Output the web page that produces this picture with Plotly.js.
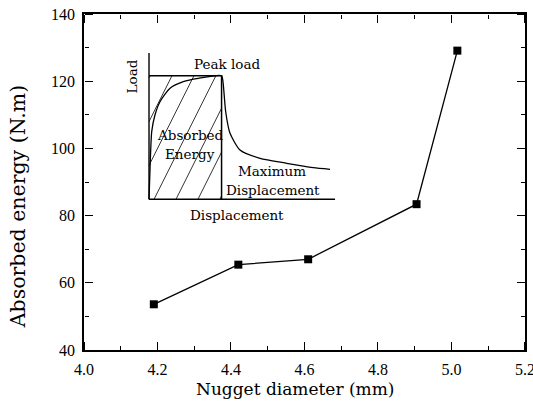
<!DOCTYPE html>
<html>
<head>
<meta charset="utf-8">
<script src="https://cdn.plot.ly/plotly-3.0.1.min.js"></script>
<style>html,body{margin:0;padding:0;background:#fff;}#chart{width:533px;height:410px;}</style>
</head>
<body>
<div id="chart"></div>
<script>
// Main data: absorbed energy vs nugget diameter
const nuggetDiameter = [4.19, 4.42, 4.61, 4.905, 5.016];
const absorbedEnergy = [53.6, 65.4, 67.0, 83.4, 129.1];

// Inset schematic (normalised load–displacement sketch)
const sketchDisp = [0, 0.006, 0.0145, 0.032, 0.059, 0.113, 0.184, 0.265, 0.39, 0.398, 0.412, 0.435, 0.489, 0.597, 0.74, 0.883, 0.973];
const sketchLoad = [0, 0.23, 0.462, 0.576, 0.667, 0.759, 0.804, 0.827, 0.845, 0.8, 0.6, 0.453, 0.337, 0.28, 0.246, 0.216, 0.205];
const peakLoad = 0.845;
const peakDisp = 0.39;

// axis ticks
const xRange = [4.0, 5.2001], yRange = [40, 140.001];
const xTick0 = 4.0, xDtick = 0.2, xMinor = 0.1;
const yTick0 = 40, yDtick = 20, yMinor = 10;

// hatch lines inside the absorbed-energy rectangle
const hatchSlope = 2.54, hatchSpacing = 0.118, hatchStart = -0.327;
const hx = [], hy = [];
for (let b = hatchStart; b < peakDisp; b += hatchSpacing) {
  const d0 = Math.max(0, b);
  const d1 = Math.min(peakDisp, b + peakLoad / hatchSlope);
  if (d1 <= d0) continue;
  hx.push(d0, d1, null);
  hy.push(hatchSlope * (d0 - b), hatchSlope * (d1 - b), null);
}

const serif = 'DejaVu Serif, Liberation Serif, serif';
const tickFont = {family: 'Liberation Serif, serif', size: 16, color: '#000'};
const insetFont = {family: serif, size: 13.5, color: '#000'};

const ghost = (xa, ya) => ({x: [xRange[0]], y: [yRange[0]], xaxis: xa, yaxis: ya, mode: 'markers',
  marker: {opacity: 0, size: 1}, showlegend: false, hoverinfo: 'skip'});

const traces = [
  {x: nuggetDiameter, y: absorbedEnergy, type: 'scatter', mode: 'lines+markers',
   line: {color: '#000', width: 1.3}, marker: {symbol: 'square', size: 8, color: '#000'},
   showlegend: false, hoverinfo: 'x+y'},
  ghost('x3', 'y3'), ghost('x4', 'y4'),
  // inset axes
  {x: [0, 0, null, 0, 1], y: [1, 0, null, 0, 0], xaxis: 'x2', yaxis: 'y2', mode: 'lines',
   line: {color: '#000', width: 1.4}, showlegend: false, hoverinfo: 'skip'},
  // rectangle
  {x: [0, peakDisp, peakDisp], y: [peakLoad, peakLoad, 0], xaxis: 'x2', yaxis: 'y2', mode: 'lines',
   line: {color: '#000', width: 1.5}, showlegend: false, hoverinfo: 'skip'},
  // hatch
  {x: hx, y: hy, xaxis: 'x2', yaxis: 'y2', mode: 'lines', connectgaps: false,
   line: {color: '#000', width: 0.8}, showlegend: false, hoverinfo: 'skip'},
  // curve
  {x: sketchDisp, y: sketchLoad, xaxis: 'x2', yaxis: 'y2', mode: 'lines',
   line: {color: '#000', width: 1.3, shape: 'spline', smoothing: 0.6}, showlegend: false, hoverinfo: 'skip'}
];

const axisCommon = {
  tickmode: 'linear', ticks: '', showline: true, linewidth: 1.8, linecolor: 'black', mirror: true,
  showgrid: false, zeroline: false, tickfont: tickFont, ticklabeloverflow: 'allow', ticklabelstandoff: 4
};
// tick-only axes placed on the opposite edge so that their outward ticks point into the plot
const tickAxis = (extra) => Object.assign({
  tickmode: 'linear', ticks: 'outside', ticklen: 8, tickwidth: 1.3, tickcolor: 'black',
  showline: false, showticklabels: false, showgrid: false, zeroline: false, anchor: 'free'
}, extra);
const xMinorTicks = {dtick: xMinor, tick0: xTick0, ticks: 'outside', ticklen: 4, tickwidth: 1, tickcolor: 'black'};
const yMinorTicks = {dtick: yMinor, tick0: yTick0, ticks: 'outside', ticklen: 4, tickwidth: 1, tickcolor: 'black'};

const layout = {
  width: 533, height: 410,
  margin: {l: 84, r: 8, t: 14, b: 60},
  paper_bgcolor: '#fff', plot_bgcolor: 'rgba(0,0,0,0)',
  showlegend: false,
  xaxis: Object.assign({}, axisCommon, {
    range: xRange, tick0: xTick0, dtick: xDtick, tickformat: '.1f', title: {text: ''}
  }),
  yaxis: Object.assign({}, axisCommon, {
    range: yRange, tick0: yTick0, dtick: yDtick, title: {text: ''}
  }),
  xaxis3: tickAxis({overlaying: 'x', side: 'top', position: 0, range: xRange, tick0: xTick0, dtick: xDtick, minor: xMinorTicks}),
  xaxis4: tickAxis({overlaying: 'x', side: 'bottom', position: 1, range: xRange, tick0: xTick0, dtick: xDtick, minor: xMinorTicks}),
  yaxis3: tickAxis({overlaying: 'y', side: 'right', position: 0, range: yRange, tick0: yTick0, dtick: yDtick, minor: yMinorTicks}),
  yaxis4: tickAxis({overlaying: 'y', side: 'left', position: 1, range: yRange, tick0: yTick0, dtick: yDtick, minor: yMinorTicks}),
  xaxis2: {domain: [0.0968, 0.5819], range: [-0.12, 1.03], visible: false, anchor: 'y2', fixedrange: true},
  yaxis2: {domain: [0.3833, 0.897], range: [-0.15, 1.03], visible: false, anchor: 'x2', fixedrange: true},
  annotations: [
    {text: 'Load', x: -0.093, y: 0.838, textangle: -90},
    {text: 'Peak load', x: 0.418, y: 0.925},
    {text: 'Absorbed', x: 0.225, y: 0.44},
    {text: 'Energy', x: 0.22, y: 0.31},
    {text: 'Maximum', x: 0.66, y: 0.19},
    {text: 'Displacement', x: 0.668, y: 0.062},
    {text: 'Displacement', x: 0.473, y: -0.107}
  ].map(a => Object.assign({xref: 'x2', yref: 'y2', showarrow: false, font: insetFont,
    xanchor: 'center', yanchor: 'middle'}, a)).concat([
    {text: 'Nugget diameter (mm)', xref: 'paper', yref: 'paper', x: 0.478, y: -0.116,
     xanchor: 'center', yanchor: 'middle', showarrow: false,
     font: {family: serif, size: 17, color: '#000'}},
    {text: 'Absorbed energy (N.m)', xref: 'paper', yref: 'paper', x: -0.149, y: 0.4286,
     xanchor: 'center', yanchor: 'middle', textangle: -90, showarrow: false,
     font: {family: serif, size: 20.5, color: '#000'}}
  ])
};

Plotly.newPlot('chart', traces, layout, {displayModeBar: false});
</script>
</body>
</html>
